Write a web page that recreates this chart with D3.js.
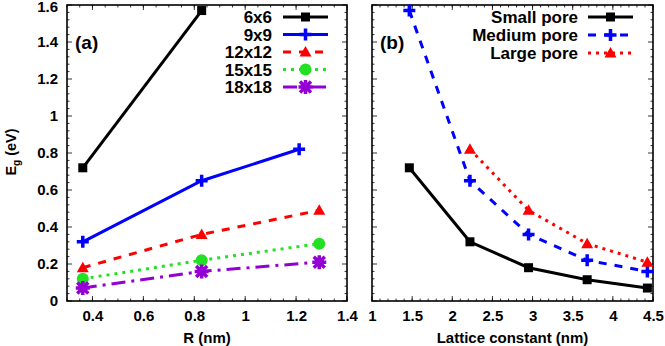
<!DOCTYPE html>
<html>
<head>
<meta charset="utf-8">
<script src="https://cdn.jsdelivr.net/npm/d3@7"></script>
<style>
  body { margin: 0; background: #fff; }
  svg text { font-family: "Liberation Sans", Arial, sans-serif; font-weight: bold; }
</style>
</head>
<body>
<div id="chart"></div>
<script>
"use strict";

// panel (a): band gap vs pore radius
const seriesA = ["6x6", "9x9", "12x12", "15x15", "18x18"];
const rA = [
  [0.362, 0.829],
  [0.362, 0.829, 1.212],
  [0.362, 0.829, 1.291],
  [0.362, 0.829, 1.291],
  [0.362, 0.829, 1.291]
];
const egA = [
  [0.72, 1.57],
  [0.32, 0.65, 0.82],
  [0.18, 0.36, 0.49],
  [0.12, 0.22, 0.31],
  [0.07, 0.16, 0.21]
];

// panel (b): band gap vs lattice constant
const seriesB = ["Small pore", "Medium pore", "Large pore"];
const latB = [
  [1.465, 2.22, 2.95, 3.68, 4.43],
  [1.465, 2.22, 2.95, 3.68, 4.43],
  [2.22, 2.95, 3.68, 4.43]
];
const egB = [
  [0.72, 0.32, 0.18, 0.115, 0.07],
  [1.57, 0.65, 0.36, 0.22, 0.16],
  [0.82, 0.49, 0.31, 0.21]
];

const yTicks = [0, 0.2, 0.4, 0.6, 0.8, 1, 1.2, 1.4, 1.6];
const xTicksA = [0.4, 0.6, 0.8, 1, 1.2, 1.4];
const xTicksB = [1, 1.5, 2, 2.5, 3, 3.5, 4, 4.5];

const styleA = [
  { color: "#000000", dash: null, marker: "square" },
  { color: "#0000ff", dash: null, marker: "plus" },
  { color: "#ff0000", dash: "8,8", marker: "triangle" },
  { color: "#22e022", dash: "3,5", marker: "circle" },
  { color: "#9400d3", dash: "14,6,3,6", marker: "star" }
];
const styleB = [
  { color: "#000000", dash: null, marker: "square" },
  { color: "#0000ff", dash: "8,8", marker: "plus" },
  { color: "#ff0000", dash: "3,5", marker: "triangle" }
];

const W = 665, H = 346;
const svg = d3.select("#chart").append("svg")
  .attr("width", W).attr("height", H);

const plotTop = 5, plotBot = 301;
const y = d3.scaleLinear().domain([0, 1.6]).range([plotBot, plotTop]);

function drawMarker(g, kind, cx, cy, color) {
  if (kind === "square") {
    g.append("rect").attr("x", cx - 4.5).attr("y", cy - 4.5)
      .attr("width", 9).attr("height", 9).attr("fill", color);
  } else if (kind === "plus") {
    g.append("path").attr("d", `M${cx-6},${cy}H${cx+6}M${cx},${cy-6}V${cy+6}`)
      .attr("stroke", color).attr("stroke-width", 3.5).attr("fill", "none");
  } else if (kind === "triangle") {
    g.append("path").attr("d", `M${cx},${cy-6}L${cx+6},${cy+4.5}L${cx-6},${cy+4.5}Z`)
      .attr("fill", color);
  } else if (kind === "circle") {
    g.append("circle").attr("cx", cx).attr("cy", cy).attr("r", 6).attr("fill", color);
  } else if (kind === "star") {
    let d = `M${cx-7},${cy}H${cx+7}M${cx},${cy-7}V${cy+7}` +
      `M${cx-5.5},${cy-5.5}L${cx+5.5},${cy+5.5}M${cx-5.5},${cy+5.5}L${cx+5.5},${cy-5.5}`;
    g.append("path").attr("d", d).attr("stroke", color)
      .attr("stroke-width", 3.5).attr("fill", "none");
  }
}

function drawFrame(x, xTicks, xMinor, yMinor, showY) {
  const [x0, x1] = x.range();
  const g = svg.append("g");
  // minor + major ticks on all four sides, pointing inward
  xMinor.forEach(v => {
    const px = x(v);
    g.append("line").attr("x1", px).attr("x2", px).attr("y1", plotBot).attr("y2", plotBot - 2.5);
    g.append("line").attr("x1", px).attr("x2", px).attr("y1", plotTop).attr("y2", plotTop + 2.5);
  });
  xTicks.forEach(v => {
    const px = x(v);
    g.append("line").attr("x1", px).attr("x2", px).attr("y1", plotBot).attr("y2", plotBot - 5);
    g.append("line").attr("x1", px).attr("x2", px).attr("y1", plotTop).attr("y2", plotTop + 5);
  });
  yMinor.forEach(v => {
    const py = y(v);
    g.append("line").attr("x1", x0).attr("x2", x0 + 2.5).attr("y1", py).attr("y2", py);
    g.append("line").attr("x1", x1).attr("x2", x1 - 2.5).attr("y1", py).attr("y2", py);
  });
  yTicks.forEach(v => {
    const py = y(v);
    g.append("line").attr("x1", x0).attr("x2", x0 + 5).attr("y1", py).attr("y2", py);
    g.append("line").attr("x1", x1).attr("x2", x1 - 5).attr("y1", py).attr("y2", py);
  });
  g.selectAll("line").attr("stroke", "#000").attr("stroke-width", 0.8);

  g.append("rect").attr("x", x0).attr("y", plotTop)
    .attr("width", x1 - x0).attr("height", plotBot - plotTop)
    .attr("fill", "none").attr("stroke", "#000").attr("stroke-width", 1.6);

  // tick labels via d3 axes, tick lines hidden
  const xa = svg.append("g").attr("transform", `translate(0,${plotBot})`)
    .call(d3.axisBottom(x).tickValues(xTicks).tickSize(0).tickPadding(9)
      .tickFormat(d3.format("~g")));
  xa.select(".domain").remove();
  xa.selectAll("text").attr("font-size", 15).attr("fill", "#000")
    .attr("font-family", "Liberation Sans, Arial, sans-serif");
  if (showY) {
    const ya = svg.append("g").attr("transform", `translate(${x0},0)`)
      .call(d3.axisLeft(y).tickValues(yTicks).tickSize(0).tickPadding(9)
        .tickFormat(d3.format("~g")));
    ya.select(".domain").remove();
    ya.selectAll("text").attr("font-size", 15).attr("fill", "#000")
      .attr("font-family", "Liberation Sans, Arial, sans-serif");
    // keep the top label inside the window
    ya.selectAll(".tick").filter(d => d === 1.6).select("text").attr("dy", "0.45em");
  }
}

function drawSeries(x, xs, ys, style) {
  const g = svg.append("g");
  const pts = xs.map((v, i) => [x(v), y(ys[i])]);
  g.append("path").attr("d", d3.line()(pts))
    .attr("fill", "none").attr("stroke", style.color).attr("stroke-width", 3)
    .attr("stroke-dasharray", style.dash);
  pts.forEach(p => drawMarker(g, style.marker, p[0], p[1], style.color));
}

function drawLegend(names, styles, textX, lineX0, lineX1, y0, dy) {
  names.forEach((name, i) => {
    const ly = y0 + i * dy;
    const g = svg.append("g");
    g.append("text").attr("x", textX).attr("y", ly + 6)
      .attr("text-anchor", "end").attr("font-size", 17).text(name);
    g.append("line").attr("x1", lineX0).attr("x2", lineX1)
      .attr("y1", ly).attr("y2", ly)
      .attr("stroke", styles[i].color).attr("stroke-width", 3)
      .attr("stroke-dasharray", styles[i].dash);
    drawMarker(g, styles[i].marker, (lineX0 + lineX1) / 2, ly, styles[i].color);
  });
}

const yMinor = d3.range(0, 1.6001, 0.04).filter(v => Math.abs(v / 0.2 - Math.round(v / 0.2)) > 1e-6);

// ---- panel (a)
const xA = d3.scaleLinear().domain([0.3, 1.4]).range([67, 347]);
const xMinorA = d3.range(0.3, 1.4001, 0.05);
drawFrame(xA, xTicksA, xMinorA, yMinor, true);
seriesA.forEach((s, i) => drawSeries(xA, rA[i], egA[i], styleA[i]));
drawLegend(seriesA, styleA, 272, 283, 328, 17, 17.5);
svg.append("text").attr("x", 75).attr("y", 49).attr("font-size", 19).text("(a)");
svg.append("text").attr("x", xA(0.85)).attr("y", 343)
  .attr("text-anchor", "middle").attr("font-size", 15).text("R (nm)");

// y label E_g (eV)
const yl = svg.append("text").attr("transform", "translate(16,152) rotate(-90)")
  .attr("text-anchor", "middle").attr("font-size", 14.5);
yl.append("tspan").text("E");
yl.append("tspan").attr("font-size", 10).attr("dy", 4).text("g");
yl.append("tspan").attr("dy", -4).text(" (eV)");

// ---- panel (b)
const xB = d3.scaleLinear().domain([1, 4.5]).range([372, 653]);
const xMinorB = d3.range(1, 4.5001, 0.1);
drawFrame(xB, xTicksB, xMinorB, yMinor, false);
seriesB.forEach((s, i) => drawSeries(xB, latB[i], egB[i], styleB[i]));
drawLegend(seriesB, styleB, 578, 588, 633, 17, 18);
svg.append("text").attr("x", 380).attr("y", 49).attr("font-size", 19).text("(b)");
svg.append("text").attr("x", xB(2.75)).attr("y", 343)
  .attr("text-anchor", "middle").attr("font-size", 15).text("Lattice constant (nm)");
</script>
</body>
</html>
